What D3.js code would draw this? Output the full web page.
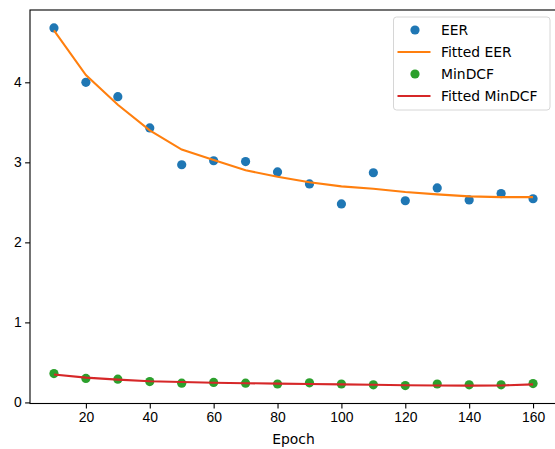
<!DOCTYPE html>
<html>
<head>
<meta charset="utf-8">
<script src="https://cdn.jsdelivr.net/npm/d3@7"></script>
<style>
  body { margin: 0; background: #fff; }
  svg { display: block; font-family: "DejaVu Sans", sans-serif; }
  .tick text { font-size: 13.9px; fill: #000; }
</style>
</head>
<body>
<div id="Chart"></div>
<script>
const epochs = [10, 20, 30, 40, 50, 60, 70, 80, 90, 100, 110, 120, 130, 140, 150, 160];
const eer = [4.68, 4.00, 3.82, 3.43, 2.97, 3.02, 3.01, 2.88, 2.73, 2.48, 2.87, 2.52, 2.68, 2.53, 2.61, 2.545];
const fittedEer = [4.65, 4.09, 3.72, 3.40, 3.16, 3.03, 2.90, 2.82, 2.75, 2.70, 2.67, 2.63, 2.60, 2.575, 2.565, 2.565];
const minDcf = [0.36, 0.30, 0.29, 0.26, 0.24, 0.25, 0.24, 0.23, 0.245, 0.23, 0.22, 0.21, 0.23, 0.22, 0.22, 0.235];
const fittedMinDcf = [0.35, 0.31, 0.285, 0.265, 0.255, 0.245, 0.24, 0.235, 0.23, 0.225, 0.22, 0.215, 0.212, 0.21, 0.212, 0.225];
const xTicks = [20, 40, 60, 80, 100, 120, 140, 160];
const yTicks = [0, 1, 2, 3, 4];

const W = 555, H = 449;
const box = {left: 30, right: 557, top: 10, bottom: 403.5};

const series = [
  {name: "EER", kind: "dot", values: eer, color: "#1f77b4"},
  {name: "Fitted EER", kind: "line", values: fittedEer, color: "#ff7f0e"},
  {name: "MinDCF", kind: "dot", values: minDcf, color: "#2ca02c"},
  {name: "Fitted MinDCF", kind: "line", values: fittedMinDcf, color: "#d62728"}
];

const svg = d3.select("#Chart").append("svg")
  .attr("width", W).attr("height", H);

const all = eer.concat(minDcf);
const lo = d3.min(all), hi = d3.max(all), pad = (hi - lo) * 0.05;
const x = d3.scaleLinear([epochs[0] - 7.5, epochs[epochs.length - 1] + 7.5], [box.left, box.right]);
const y = d3.scaleLinear([lo - pad, hi + pad], [box.bottom, box.top]);

const plot = svg.append("g");

for (const s of series) {
  if (s.kind === "dot") {
    plot.append("g").selectAll("circle").data(s.values).join("circle")
      .attr("cx", (d, i) => x(epochs[i]))
      .attr("cy", d => y(d))
      .attr("r", 4.6)
      .attr("fill", s.color);
  } else {
    const line = d3.line().x((d, i) => x(epochs[i])).y(d => y(d));
    plot.append("path")
      .attr("d", line(s.values))
      .attr("fill", "none")
      .attr("stroke", s.color)
      .attr("stroke-width", 2.08);
  }
}

// axes
svg.append("g")
  .attr("transform", `translate(0 ${box.bottom})`)
  .call(d3.axisBottom(x).tickValues(xTicks).tickSize(4.9).tickPadding(3.5).tickSizeOuter(0))
  .call(g => g.select(".domain").remove());
svg.append("g")
  .attr("transform", `translate(${box.left} 0)`)
  .call(d3.axisLeft(y).tickValues(yTicks).tickSize(4.9).tickPadding(3.5).tickFormat(d3.format("d")))
  .call(g => g.select(".domain").remove());
svg.selectAll(".tick line").attr("stroke", "#000").attr("stroke-width", 1.1);

// spines
svg.append("rect")
  .attr("x", box.left).attr("y", box.top)
  .attr("width", box.right - box.left).attr("height", box.bottom - box.top)
  .attr("fill", "none").attr("stroke", "#000").attr("stroke-width", 1.1);

svg.append("text")
  .attr("x", (box.left + box.right) / 2).attr("y", 444)
  .attr("text-anchor", "middle")
  .attr("font-size", 13.9)
  .text("Epoch");

// legend
const legend = svg.append("g").attr("transform", "translate(393.5 17)");
legend.append("rect")
  .attr("width", 156.5).attr("height", 93)
  .attr("rx", 3)
  .attr("fill", "#fff").attr("fill-opacity", 0.8)
  .attr("stroke", "#d6d6d6").attr("stroke-width", 1);
const item = legend.selectAll("g.item").data(series).join("g")
  .attr("class", "item")
  .attr("transform", (d, i) => `translate(0 ${13 + i * 22})`);
item.filter(d => d.kind === "dot").append("circle")
  .attr("cx", 21.5).attr("r", 4.6).attr("fill", d => d.color);
item.filter(d => d.kind === "line").append("line")
  .attr("x1", 4).attr("x2", 37)
  .attr("stroke", d => d.color).attr("stroke-width", 2.08);
item.append("text")
  .attr("x", 47.5).attr("dy", "0.35em")
  .attr("font-size", 13.9)
  .text(d => d.name);
</script>
</body>
</html>
